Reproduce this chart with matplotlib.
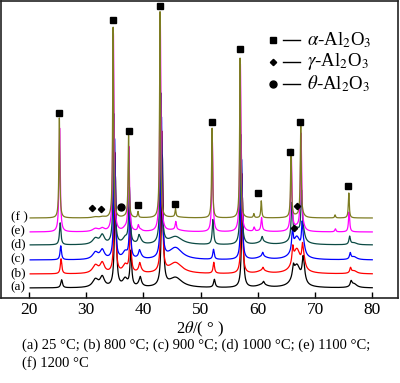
import numpy as np
import matplotlib
matplotlib.use("Agg")
import matplotlib.pyplot as plt

plt.rcParams['font.family'] = ['Liberation Serif', 'DejaVu Serif']
plt.rcParams['mathtext.fontset'] = 'stix'

# ---- data ----
labels = ["(a)", "(b)", "(c)", "(d)", "(e)", "(f )"]
colors = ["#000000", "#ff0000", "#0000ff", "#0b4a44", "#ff00ff", "#7d7c22"]
offsets = [10, 24, 38, 53, 66, 80]
shifts = [0.4, 0.3, 0.25, 0.15, 0.05, 0.0]

# sharp alpha-Al2O3 reflections (positions for curve f)
sharp_pos = [25.3, 34.7, 37.4, 39.05, 42.9, 45.6, 52.0, 56.9, 59.3, 60.6, 65.8, 67.5, 73.5, 75.9]
sharp_h = [
    [8, 110, 35, 5, 130, 0, 8, 90, 0, 3, 10, 12, 0, 5],        # a
    [15, 120, 50, 5, 140, 0, 11, 100, 0, 3, 15, 15, 0, 5],     # b
    [14, 120, 50, 4, 140, 0, 10, 100, 0, 4, 20, 25, 0, 6],     # c
    [22, 130, 55, 5, 150, 0, 25, 110, 0, 5, 35, 45, 0, 8],     # d
    [104, 198, 84, 5, 210, 8, 90, 168, 4, 13, 75, 96, 3, 20],  # e
    [100, 191, 82, 6, 206, 8, 90, 160, 4, 17, 68, 91, 3, 25],  # f
]
sharp_w = [0.35, 0.3, 0.3, 0.3, 0.25, 0.2]

# broad transition-alumina humps
broad_pos = [31.6, 32.8, 36.8, 39.4, 45.6, 60.8, 66.8, 68.0, 76.8]
broad_w = [1.2, 0.9, 1.0, 0.8, 2.8, 2.0, 1.6, 0.6, 1.2]
broad_h = [
    [8, 10, 8, 5, 10, 3, 22, 14, 4],
    [8, 10, 8, 5, 11, 3, 24, 10, 3],
    [7, 9, 7, 5, 12, 3, 22, 8, 3],
    [6, 9, 6, 5, 8, 3, 15, 6, 2],
    [3, 3, 3, 2, 2, 1, 4, 2, 0],
    [1, 1, 1, 0, 1, 0, 2, 1, 0],
]

# phase markers
sq_x = [25.3, 34.7, 37.4, 39.05, 42.9, 45.6, 52.0, 56.9, 60.0, 65.6, 67.4, 75.8]
sq_y = [185, 278, 167, 93, 292, 94, 176, 249, 105, 146, 176, 112]
dia_x = [31.0, 32.5, 66.8, 66.3]
dia_y = [90, 89, 92, 70]
cir_x = [36.0]
cir_y = [91]

xticks = [20, 30, 40, 50, 60, 70, 80]
legend_txt = [r"$\alpha$-Al$_2$O$_3$", r"$\gamma$-Al$_2$O$_3$", r"$\theta$-Al$_2$O$_3$"]
caption = ["(a) 25 °C; (b) 800 °C; (c) 900 °C; (d) 1000 °C; (e) 1100 °C;", "(f) 1200 °C"]

# ---- drawing ----
W, H = 400, 383
fig = plt.figure(figsize=(W / 100, H / 100), dpi=100)
ax = fig.add_axes([1 / W, 1 - 298 / H, 397 / W, 297 / H])

x = np.linspace(20.2, 80, 4000)

def lor(x, x0, h, w):
    return h / (1 + ((x - x0) / (w / 2)) ** 2)

for i in range(6):
    y = np.full_like(x, offsets[i], dtype=float)
    for p, h in zip(sharp_pos, sharp_h[i]):
        if h:
            y += lor(x, p + shifts[i], h, sharp_w[i])
    for p, h, w in zip(broad_pos, broad_h[i], broad_w):
        if h:
            y += lor(x, p, h, w)
    ax.plot(x, y, color=colors[i], lw=0.9)
    ax.text(0.024, offsets[i] + 1, labels[i], fontsize=9.5,
            ha="left", va="center", transform=ax.get_yaxis_transform())

ax.plot(sq_x, sq_y, ls="none", marker="s", ms=5, color="black")
ax.plot(dia_x, dia_y, ls="none", marker="D", ms=3.2, color="black")
ax.plot(cir_x, cir_y, ls="none", marker="o", ms=5, color="black")

# legend drawn by hand
leg_y = [40, 62, 84]
mk = ["s", "D", "o"]
ms = [5, 3.2, 5]
for yy, m, s, t in zip(leg_y, mk, ms, legend_txt):
    yf = (298 - yy) / 297
    ax.plot([(273 - 1) / 397], [yf], marker=m, ms=s, color="black", transform=ax.transAxes, clip_on=False)
    ax.plot([(283 - 1) / 397, (300 - 1) / 397], [yf, yf], color="black", lw=1.0, transform=ax.transAxes)
    ax.text((307 - 1) / 397, yf, t, fontsize=13.5, ha="left", va="center", transform=ax.transAxes)

ax.set_xlim(15.1, 84.5)
ax.set_ylim(0, 297)
ax.set_yticks([])
ax.set_xticks(xticks)
ax.set_xticklabels([str(v) for v in xticks], fontsize=12.5)
ax.tick_params(axis="x", direction="in", length=4, width=1, pad=3)
for s in ax.spines.values():
    s.set_linewidth(1.2)
    s.set_color("#222222")

fig.text(200 / W, 1 - 329 / H, r"2$\theta$/( ° )", fontsize=12, ha="center", va="center")
fig.text(22 / W, 1 - 345 / H, caption[0], fontsize=10.5, ha="left", va="center")
fig.text(22 / W, 1 - 363 / H, caption[1], fontsize=10.5, ha="left", va="center")

fig.savefig("out.png", dpi=100)
